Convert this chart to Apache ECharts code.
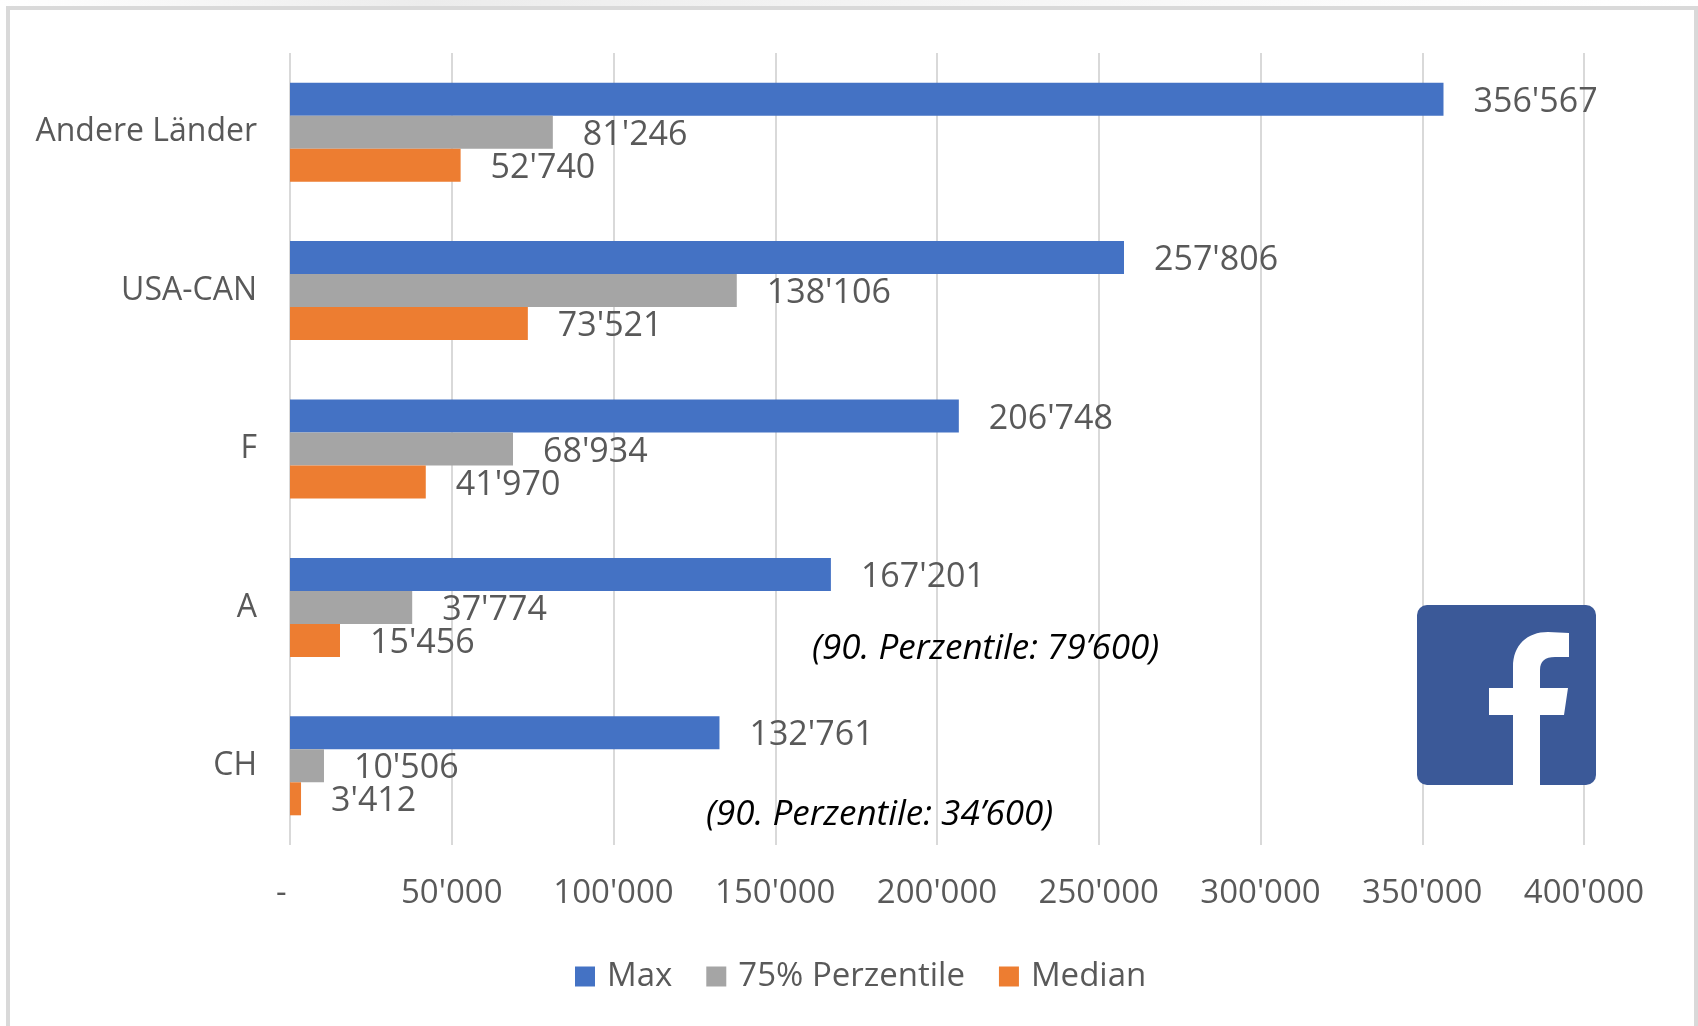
<!DOCTYPE html>
<html>
<head>
<meta charset="utf-8">
<style>
  html, body { margin: 0; padding: 0; background: #fff; }
  #chart { width: 1698px; height: 1026px; }
</style>
<script src="https://cdn.jsdelivr.net/npm/echarts@6/dist/echarts.min.js"></script>
</head>
<body>
<div id="chart"></div>
<script>
// Income figures by country group, top row first
const categories = ['Andere Länder', 'USA-CAN', 'F', 'A', 'CH'];
const maxValues = [356567, 257806, 206748, 167201, 132761];
const p75Values = [81246, 138106, 68934, 37774, 10506];
const medianValues = [52740, 73521, 41970, 15456, 3412];
const seriesNames = ['Max', '75% Perzentile', 'Median'];
const seriesColors = ['#4472c4', '#a5a5a5', '#ed7d31'];
const notes = ['(90. Perzentile: 79’600)', '(90. Perzentile: 34’600)'];

const FONT = '"Open Sans", "Noto Sans", sans-serif';
const TEXT = '#595959';
const group = (v) => String(v).replace(/\B(?=(\d{3})+$)/g, "'");

// The "f" of the network logo, registered as a reusable shape
echarts.graphic.registerShape('logoLetter', echarts.graphic.extendPath(
  'M1513 785V715H1489V688H1513V667C1513 645 1527 632 1548 632L1569 633V657H1555C1545 657 1540 661 1540 670V688H1568L1564 715H1540V785Z'
));

const makeSeries = (i, values) => ({
  name: seriesNames[i],
  type: 'bar',
  data: values,
  barWidth: 33,
  barGap: 0,
  itemStyle: { color: seriesColors[i] },
  label: {
    show: true,
    position: 'right',
    distance: 30,
    offset: [0, 3],
    color: TEXT,
    fontFamily: FONT,
    fontSize: 34,
    formatter: (p) => group(p.value)
  }
});

const chart = echarts.init(document.getElementById('chart'), null, { renderer: 'canvas' });
chart.setOption({
  animation: false,
  backgroundColor: '#ffffff',
  grid: { left: 290, width: 1294, top: 53, height: 792 },
  xAxis: {
    type: 'value',
    min: 0,
    max: 400000,
    interval: 50000,
    axisLine: { show: false },
    axisTick: { show: false },
    splitLine: { lineStyle: { color: '#d9d9d9', width: 2 } },
    axisLabel: {
      margin: 32,
      color: TEXT,
      fontFamily: FONT,
      fontSize: 33,
      hideOverlap: false,
      formatter: (v) => (v === 0 ? '-  ' : group(v))
    }
  },
  yAxis: {
    type: 'category',
    inverse: true,
    data: categories,
    axisLine: { show: false },
    axisTick: { show: false },
    axisLabel: { margin: 33, color: TEXT, fontFamily: FONT, fontSize: 32, offset: 0 }
  },
  legend: {
    left: 570,
    top: 955,
    itemWidth: 20,
    itemHeight: 20,
    itemGap: 34,
    icon: 'rect',
    data: seriesNames,
    textStyle: { color: TEXT, fontFamily: FONT, fontSize: 33, padding: [0, 0, 0, 7] }
  },
  series: [
    makeSeries(0, maxValues),
    makeSeries(1, p75Values),
    makeSeries(2, medianValues)
  ],
  graphic: [
    // soft shadow along the top edge
    {
      type: 'rect',
      silent: true,
      z: 0,
      shape: { x: 0, y: 0, width: 1698, height: 6 },
      style: {
        fill: new echarts.graphic.LinearGradient(0, 0, 1, 0, [
          { offset: 0, color: '#ffffff' },
          { offset: 0.25, color: '#ececec' },
          { offset: 0.5, color: '#f3f3f3' },
          { offset: 0.8, color: '#fbfbfb' },
          { offset: 1, color: '#ffffff' }
        ])
      }
    },
    // outer panel frame, open along the bottom edge
    {
      type: 'polyline',
      silent: true,
      z: 0,
      shape: { points: [[8, 1026], [8, 8], [1696, 8], [1696, 1026]] },
      style: { stroke: '#d9d9d9', lineWidth: 4, fill: null }
    },
    // percentile notes beside the two lower groups
    {
      type: 'text', x: 812, y: 649, z: 10,
      style: {
        text: notes[0], fill: '#000000', fontFamily: FONT, fontSize: 35,
        fontStyle: 'italic', textVerticalAlign: 'middle'
      }
    },
    {
      type: 'text', x: 706, y: 815, z: 10,
      style: {
        text: notes[1], fill: '#000000', fontFamily: FONT, fontSize: 35,
        fontStyle: 'italic', textVerticalAlign: 'middle'
      }
    },
    // network logo
    {
      type: 'rect', z: 10, silent: true,
      shape: { x: 1417, y: 605, width: 179, height: 180, r: 10 },
      style: { fill: '#3b5998' }
    },
    {
      type: 'logoLetter', z: 11, silent: true,
      style: { fill: '#ffffff' }
    }
  ]
});
</script>
</body>
</html>
